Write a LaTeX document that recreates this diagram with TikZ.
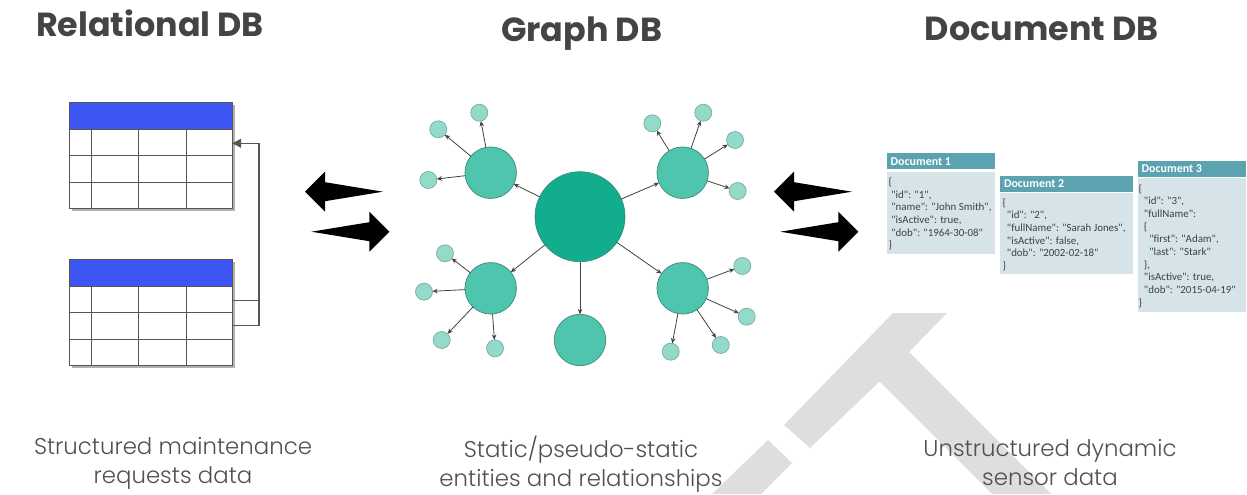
\documentclass[tikz,border=0pt]{standalone}
\usepackage{fontspec}
\setmainfont{Poppins}
\newfontfamily\lightfont{Poppins Light}
\newfontfamily\docfont{Carlito}
\usetikzlibrary{arrows.meta}

\definecolor{titlegrey}{HTML}{444444}
\definecolor{labelgrey}{HTML}{505050}
\definecolor{headblue}{HTML}{3D55F2}
\definecolor{gridgrey}{HTML}{555555}
\definecolor{hubgreen}{HTML}{12AD8D}
\definecolor{midgreen}{HTML}{4FC5AE}
\definecolor{leafgreen}{HTML}{93DACB}
\definecolor{rimgreen}{HTML}{3C8A7B}
\definecolor{dochead}{HTML}{5CA3B1}
\definecolor{docbody}{HTML}{D6E4E9}
\definecolor{markgrey}{HTML}{DEDEDE}

\begin{document}
\begin{tikzpicture}
[x=0.02cm,y=-0.02cm,%
  every node/.style={inner sep=0pt,outer sep=0pt},%
  title/.style={font=\fontsize{19}{22}\selectfont\bfseries,text=titlegrey,anchor=base},%
  caption/.style={font=\lightfont\fontsize{13}{16}\selectfont,text=labelgrey,align=center,anchor=base},%
  tablebox/.style={draw=gridgrey,line width=0.5pt,minimum width=3.26cm,minimum height=2.12cm,anchor=north west},%
  keyline/.style={draw=gridgrey,line width=0.7pt},%
  hub/.style={circle,draw=rimgreen,fill=hubgreen,line width=0.4pt,minimum size=1.8cm},%
  mid/.style={circle,draw=rimgreen,fill=midgreen,line width=0.4pt,minimum size=1.03cm},%
  leaf/.style={circle,draw=rimgreen!70,fill=leafgreen,line width=0.4pt,minimum size=0.34cm},%
  link/.style={->,>={Stealth[length=3pt,width=2.6pt]},draw=black!75,line width=0.45pt},%
  dochead/.style={fill=dochead,anchor=north west,minimum height=0.32cm},%
  docbody/.style={fill=docbody,anchor=north west},%
  doclabel/.style={font=\docfont\bfseries\fontsize{6.8}{8}\selectfont,text=white,anchor=west},%
  doctext/.style={font=\docfont\fontsize{6.2}{7.2}\selectfont,text=black!75,align=left,anchor=north west}]
\useasboundingbox (0,0) rectangle (1247,494);

% watermark in the back
\fill[markgrey] (893,313) -- (947,313) -- (909,352) -- (1051,494) -- (992,494)
  -- (879.5,381.5) -- (810,448) -- (784,425) -- cycle;
\fill[markgrey] (768,440) -- (792,463) -- (761,494) -- (712,494) -- cycle;

% titles
\node[title] (reltitle) at (150,36.7) {Relational DB};
\node[title] (graphtitle) at (581.7,41.7) {Graph DB};
\node[title] (doctitle) at (1041.7,40) {Document DB};

% relational tables
\foreach \t/\y in {upper/102.7,lower/259}{
  \fill[black!30] (71.5,\y+2.5) rectangle (235,\y+108.5);
  \node[tablebox,fill=white] (\t) at (69.3,\y) {};
  \fill[headblue] (69.3,\y) rectangle (232.3,\y+27);
  \foreach \r in {27,53,80}
    \draw[gridgrey,line width=0.5pt] (69.3,\y+\r) -- (232.3,\y+\r);
  \foreach \c in {91.7,138.3,186.7}
    \draw[gridgrey,line width=0.5pt] (\c,\y+27) -- (\c,\y+106);
  \draw[gridgrey,line width=0.5pt] (69.3,\y) rectangle (232.3,\y+106);
}
\coordinate (joint) at (259,143.3);
\draw[keyline] (lower.east |- 0,300.7) -- (joint |- 0,300.7);
\draw[keyline,-{Triangle[length=5pt,width=5pt]}] (lower.east |- 0,325.3) -| (joint) -- (joint -| upper.east);

% big arrows
\foreach \x/\y/\s in {305/191.7/1,389.3/231.7/-1,774/191.7/1,858.3/231.7/-1}
  \fill[black,shift={(\x,\y)},xscale=\s] (0,0) -- (20,-20) -- (20,-9.5) -- (78,0)
    -- (20,9.5) -- (20,20) -- cycle;

% graph
\node[hub] (hub) at (580,216.7) {};
\node[mid] (nw) at (490.7,172.7) {};
\node[mid] (ne) at (682.7,172.7) {};
\node[mid] (sw) at (490.7,288.3) {};
\node[mid] (se) at (682.7,288.3) {};
\node[mid] (s) at (580,340) {};
\foreach \n/\x/\y in {nw1/438.3/129.3,nw2/479.3/112.7,nw3/428.3/180,%
    ne1/652.3/123.3,ne2/703.3/112.7,ne3/735/140,ne4/737.7/191,%
    sw1/445/253.3,sw2/424/291.7,sw3/441.7/340,sw4/495/348.3,%
    se1/742.3/266,se2/746.7/316.7,se3/720.7/345,se4/670.7/351.7}
  \node[leaf] (\n) at (\x,\y) {};
\foreach \a/\b in {hub/nw,hub/ne,hub/sw,hub/se,hub/s,%
    nw/nw1,nw/nw2,nw/nw3,ne/ne1,ne/ne2,ne/ne3,ne/ne4,%
    sw/sw1,sw/sw2,sw/sw3,sw/sw4,se/se1,se/se2,se/se3,se/se4}
  \draw[link] (\a) -- (\b);

% documents
\node[dochead,minimum width=2.166cm] (d1h) at (886.7,153.3) {};
\node[docbody,minimum width=2.166cm,minimum height=1.646cm] (d1b) at (886.7,171.7) {};
\node[dochead,minimum width=2.666cm] (d2h) at (1000,176) {};
\node[docbody,minimum width=2.666cm,minimum height=1.614cm] (d2b) at (1000,193.3) {};
\node[dochead,minimum width=2.166cm] (d3h) at (1137.7,160.7) {};
\node[docbody,minimum width=2.166cm,minimum height=2.68cm] (d3b) at (1137.7,178.3) {};
\node[doclabel] at ([xshift=0.08cm]d1h.west) {Document 1};
\node[doclabel] at ([xshift=0.08cm]d2h.west) {Document 2};
\node[doclabel] at ([xshift=0.08cm]d3h.west) {Document 3};
\node[doctext] (d1t) at ([shift={(2,6)}]d1b.north west) {%
  \{\\
  \hspace*{1.5pt}"id": "1",\\
  \hspace*{1.5pt}"name": "John Smith",\\
  \hspace*{1.5pt}"isActive": true,\\
  \hspace*{1.5pt}"dob": "1964-30-08"\\
  \}};
\node[doctext] (d2t) at ([shift={(2.5,5)}]d2b.north west) {%
  \{\\
  \hspace*{2.5pt}"id": "2",\\
  \hspace*{2.5pt}"fullName": "Sarah Jones",\\
  \hspace*{2.5pt}"isActive": false,\\
  \hspace*{2.5pt}"dob": "2002-02-18"\\
  \}};
\node[doctext] (d3t) at ([shift={(1,6)}]d3b.north west) {%
  \{\\
  \hspace*{3pt}"id": "3",\\
  \hspace*{3pt}"fullName":\\
  \hspace*{3pt}\{\\
  \hspace*{6pt}"first": "Adam",\\
  \hspace*{6pt}"last": "Stark"\\
  \hspace*{3pt}\},\\
  \hspace*{3pt}"isActive": true,\\
  \hspace*{3pt}"dob": "2015-04-19"\\
  \}};

% captions
\node[caption] (relcap) at (173,483) {Structured maintenance\\requests data};
\node[caption] (graphcap) at (581,486) {Static/pseudo-static\\entities and relationships};
\node[caption] (doccap) at (1050,485) {Unstructured dynamic\\sensor data};
\end{tikzpicture}
\end{document}
